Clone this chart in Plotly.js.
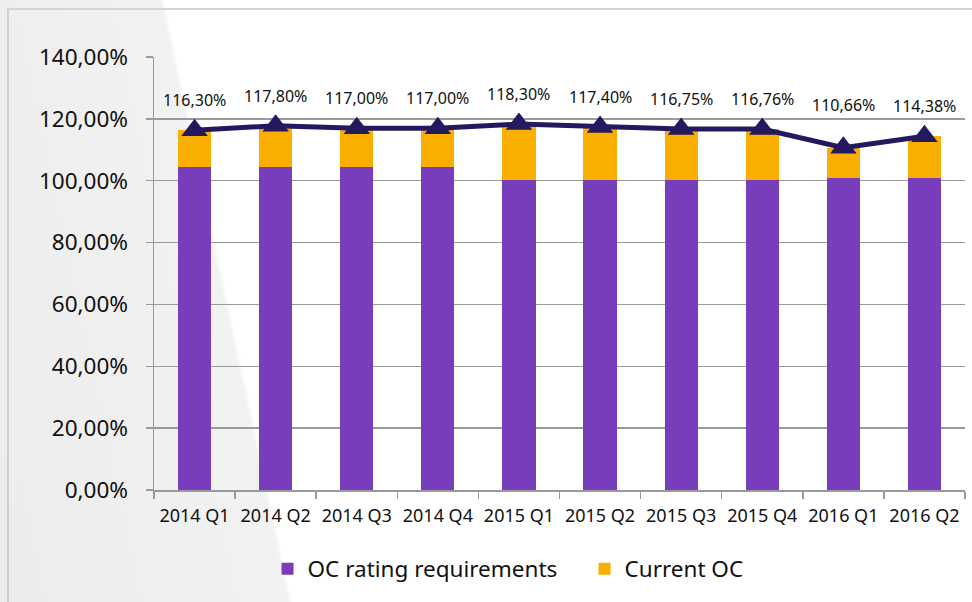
<!DOCTYPE html>
<html>
<head>
<meta charset="utf-8">
<script src="https://cdn.plot.ly/plotly-3.0.1.min.js"></script>
<style>
  html, body { margin: 0; padding: 0; background: #ffffff; }
  #wrap {
    position: relative; width: 972px; height: 602px; overflow: hidden;
    background: linear-gradient(78deg, #ececec 0%, #f2f2f2 26.2%, #ffffff 26.6%, #ffffff 100%);
  }
  #frame {
    position: absolute; left: 7px; top: 8px; width: 980px; height: 620px;
    border-left: 2px solid #cfcfcf; border-top: 2px solid #d4d4d4;
  }
  #chart { position: absolute; left: 0; top: 0; width: 972px; height: 602px; }
</style>
</head>
<body>
<div id="wrap">
  <div id="frame"></div>
  <div id="chart"></div>
</div>
<script>
const categories = ['2014 Q1','2014 Q2','2014 Q3','2014 Q4','2015 Q1','2015 Q2','2015 Q3','2015 Q4','2016 Q1','2016 Q2'];
const ratingRequirements = [104.5, 104.5, 104.5, 104.5, 100.3, 100.3, 100.3, 100.3, 101.0, 101.0];
const totalOC = [116.30, 117.80, 117.00, 117.00, 118.30, 117.40, 116.75, 116.76, 110.66, 114.38];
const totalLabels = ['116,30%','117,80%','117,00%','117,00%','118,30%','117,40%','116,75%','116,76%','110,66%','114,38%'];
const yTickVals = [0, 20, 40, 60, 80, 100, 120, 140];
const yTickText = ['0,00%','20,00%','40,00%','60,00%','80,00%','100,00%','120,00%','140,00%'];

const currentOC = totalOC.map((t, i) => +(t - ratingRequirements[i]).toFixed(2));

const FONT = 'Noto Sans, Open Sans, sans-serif';

const traces = [
  {
    type: 'bar', name: 'OC rating requirements', x: categories, y: ratingRequirements,
    marker: { color: '#783dbb' }, hoverinfo: 'skip'
  },
  {
    type: 'bar', name: 'Current OC', x: categories, y: currentOC,
    marker: { color: '#f9ae00' }, hoverinfo: 'skip'
  },
  {
    type: 'scatter', mode: 'lines+markers', name: 'Total OC', x: categories, y: totalOC,
    showlegend: false, cliponaxis: false,
    line: { color: '#24195f', width: 5 },
    marker: { symbol: 'triangle-up', size: 23, color: '#24195f' }
  }
];

const annotations = categories.map((c, i) => ({
  x: c, y: totalOC[i], xref: 'x', yref: 'y',
  text: totalLabels[i], showarrow: false,
  yshift: i === 8 ? 43 : 30,
  font: { family: FONT, size: 16, color: '#111111' }
}));

const layout = {
  width: 972, height: 602,
  paper_bgcolor: 'rgba(0,0,0,0)', plot_bgcolor: 'rgba(0,0,0,0)',
  margin: { l: 154, r: 7, t: 57, b: 112, autoexpand: false },
  barmode: 'stack', bargap: 0.59,
  showlegend: true,
  legend: {
    orientation: 'h', x: 0.14, xanchor: 'left', y: -0.133, yanchor: 'top',
    font: { family: FONT, size: 22.5, color: '#111111' },
    traceorder: 'normal', itemwidth: 30, entrywidth: 272
  },
  xaxis: {
    type: 'category', range: [-0.5, categories.length - 0.5],
    showgrid: false, showline: true, linecolor: '#9a9a9a', linewidth: 1.5,
    ticks: 'outside', tickson: 'boundaries', ticklen: 7, tickcolor: '#9a9a9a', tickwidth: 1.5,
    tickangle: 0, ticklabelstandoff: 9,
    tickfont: { family: FONT, size: 18, color: '#111111' }, fixedrange: true, automargin: false
  },
  yaxis: {
    range: [0, 140], tickvals: yTickVals, ticktext: yTickText,
    showgrid: true, gridcolor: '#9a9a9a', gridwidth: 1.5,
    showline: true, linecolor: '#9a9a9a', linewidth: 1.5,
    ticks: 'outside', ticklen: 7, tickcolor: '#9a9a9a', tickwidth: 1.5,
    ticklabelstandoff: 13,
    tickfont: { family: FONT, size: 22.5, color: '#111111' }, zeroline: false, fixedrange: true, automargin: false
  },
  annotations: annotations,
  font: { family: FONT }
};

Plotly.newPlot('chart', traces, layout, { displayModeBar: false, staticPlot: true });
</script>
</body>
</html>
